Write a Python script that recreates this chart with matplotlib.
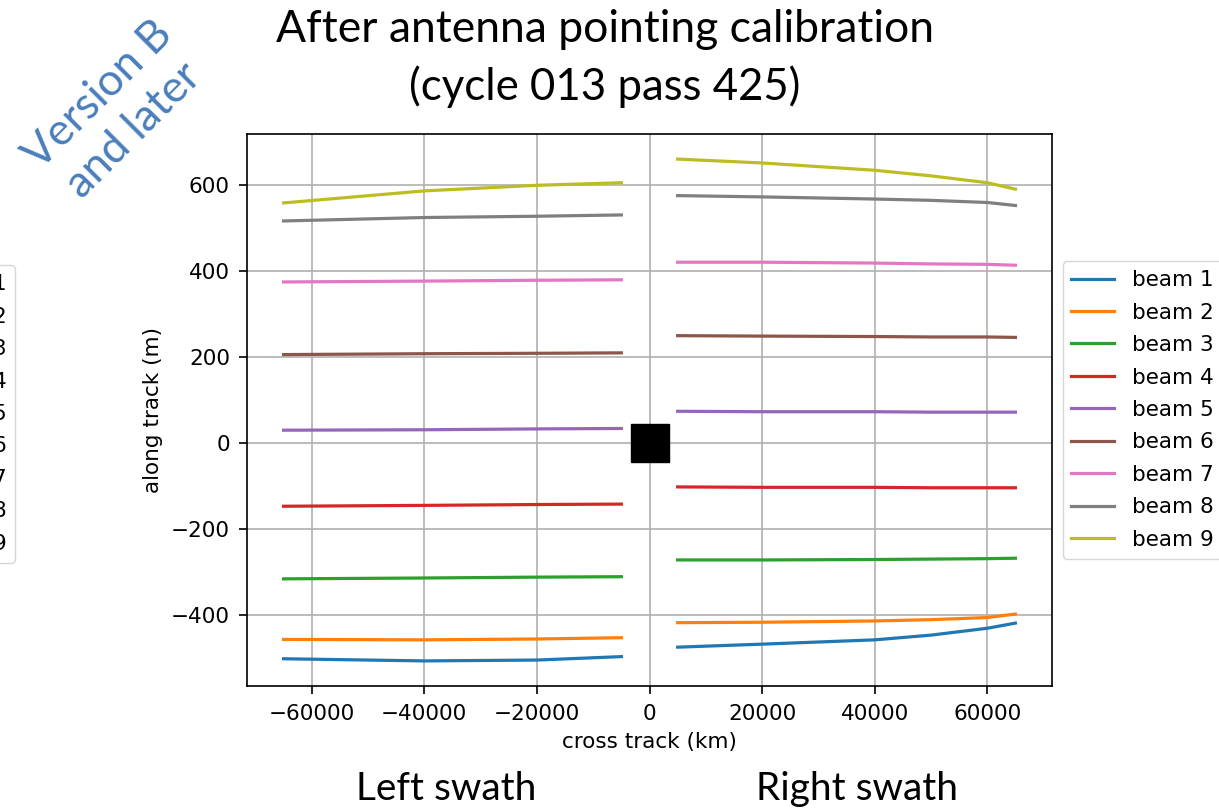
import numpy as np
import matplotlib
matplotlib.use("Agg")
import matplotlib.pyplot as plt

# sample positions across each swath (cross track)
left_x = [-65000, -40000, -20000, -5000]
right_x = [5000, 20000, 40000, 50000, 60000, 65000]

# along-track offsets per beam, left swath
left_beams = {
    "beam 1": [-502, -507, -505, -497],
    "beam 2": [-457, -458, -456, -453],
    "beam 3": [-316, -314, -312, -311],
    "beam 4": [-147, -145, -143, -142],
    "beam 5": [30, 31, 33, 34],
    "beam 6": [206, 208, 209, 210],
    "beam 7": [375, 377, 379, 380],
    "beam 8": [517, 525, 528, 531],
    "beam 9": [559, 587, 600, 606],
}

# along-track offsets per beam, right swath
right_beams = {
    "beam 1": [-475, -468, -458, -447, -431, -419],
    "beam 2": [-418, -417, -414, -411, -406, -398],
    "beam 3": [-272, -272, -271, -270, -269, -268],
    "beam 4": [-102, -103, -103, -104, -104, -104],
    "beam 5": [74, 73, 73, 72, 72, 72],
    "beam 6": [250, 249, 248, 247, 247, 246],
    "beam 7": [421, 421, 419, 417, 416, 414],
    "beam 8": [576, 573, 568, 565, 560, 553],
    "beam 9": [661, 652, 635, 622, 606, 591],
}

plt.rcParams["font.size"] = 15.5
plt.rcParams["lines.linewidth"] = 2.3
plt.rcParams["axes.linewidth"] = 1.2
plt.rcParams["xtick.major.size"] = 5.8
plt.rcParams["ytick.major.size"] = 5.8
plt.rcParams["xtick.major.pad"] = 7
plt.rcParams["ytick.major.pad"] = 6.5
plt.rcParams["xtick.major.width"] = 1.2
plt.rcParams["ytick.major.width"] = 1.2
plt.rcParams["grid.linewidth"] = 1.2
plt.rcParams["legend.labelspacing"] = 0.58

W, H = 1219, 809
fig = plt.figure(figsize=(W / 100, H / 100), dpi=100)
ax = fig.add_axes([247 / W, 1 - 686 / H, (1052 - 247) / W, (686 - 134) / H])

# one line per beam, gap between the two swaths
handles = []
for name in left_beams:
    xs = left_x + [np.nan] + right_x
    ys = left_beams[name] + [np.nan] + right_beams[name]
    h, = ax.plot(xs, ys, label=name)
    handles.append(h)

# nadir marker
ax.plot([0], [0], "s", color="black", markersize=28)

ax.grid(True)
ax.set_xlabel("cross track (km)", labelpad=6)
ax.set_ylabel("along track (m)", labelpad=6)
ax.set_xticks([-60000, -40000, -20000, 0, 20000, 40000, 60000])
ax.set_yticks([-400, -200, 0, 200, 400, 600])

ax.legend(loc="center left", bbox_to_anchor=(1.0, 0.5), borderaxespad=0.5)

# clipped legend of the neighbouring plot on the slide
fig.legend(handles, list(left_beams), loc="center right",
           bbox_to_anchor=(15 / W, 1 - 414 / H), borderaxespad=0)

slide_font = ["Lato", "DejaVu Sans"]
fig.text(605 / W, 1 - 30 / H, "After antenna pointing calibration",
         ha="center", va="center", fontsize=32, family=slide_font)
fig.text(605 / W, 1 - 87 / H, "(cycle 013 pass 425)",
         ha="center", va="center", fontsize=31.5, family=slide_font)
fig.text(446 / W, 1 - 789 / H, "Left swath",
         ha="center", va="center", fontsize=28, family=slide_font)
fig.text(857 / W, 1 - 789 / H, "Right swath",
         ha="center", va="center", fontsize=28, family=slide_font)
fig.text(116 / W, 1 - 113 / H, "Version B\nand later", color="#4a7ebb",
         ha="center", va="center", rotation=45, fontsize=32,
         family=slide_font, linespacing=1.3)

fig.savefig("out.png", dpi=100)
